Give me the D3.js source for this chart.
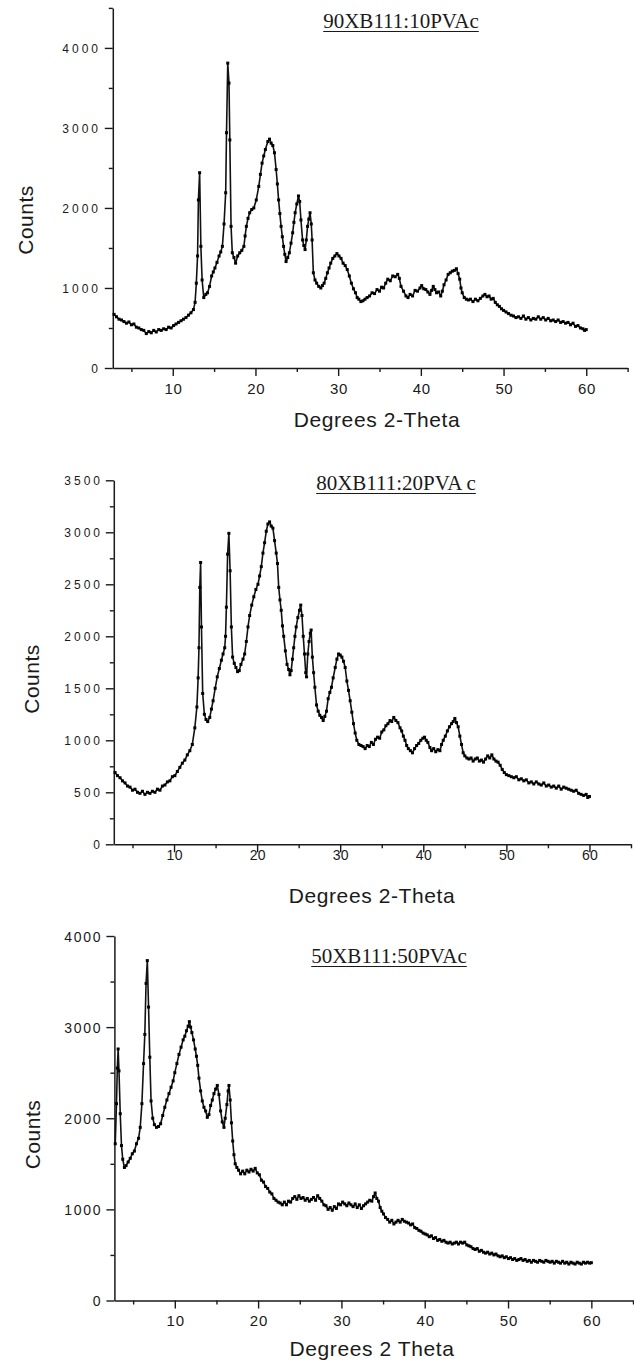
<!DOCTYPE html>
<html>
<head>
<meta charset="utf-8">
<script src="https://cdn.jsdelivr.net/npm/d3@7"></script>
<style>
  body { margin: 0; background: #fff; }
  svg { display: block; }
</style>
</head>
<body>
<svg id="chart" width="634" height="1360"></svg>
<script>
// XRD scans: [2-theta (degrees), counts]
const scan90 = [
  [2.9,670],[3.2,640],[3.5,610],[3.8,600],[4.1,580],[4.4,560],[4.7,575],[5.0,540],[5.3,550],[5.6,510],
  [5.9,500],[6.2,480],[6.5,470],[6.8,430],[7.1,455],[7.4,440],[7.7,470],[8.0,450],[8.3,480],[8.6,470],
  [8.9,490],[9.2,480],[9.5,510],[9.8,500],[10.1,530],[10.4,550],[10.7,570],[11.0,590],[11.3,610],[11.6,630],
  [11.9,660],[12.2,690],[12.5,730],[12.7,820],[12.85,1060],[13.0,1400],[13.1,2100],[13.25,2440],[13.4,1520],[13.55,1100],
  [13.75,880],[14.0,920],[14.2,940],[14.45,1020],[14.7,1150],[14.9,1200],[15.1,1250],[15.35,1320],[15.6,1400],[15.8,1450],
  [16.0,1520],[16.2,1800],[16.4,2190],[16.5,2940],[16.65,3810],[16.8,3560],[16.9,2850],[17.05,1770],[17.2,1440],[17.4,1380],
  [17.6,1310],[17.85,1400],[18.1,1440],[18.35,1470],[18.6,1520],[18.75,1650],[18.9,1770],[19.1,1870],[19.3,1940],[19.55,1980],
  [19.8,2000],[20.1,2100],[20.4,2270],[20.6,2420],[20.8,2560],[21.0,2650],[21.2,2730],[21.5,2830],[21.7,2860],[21.9,2810],
  [22.1,2780],[22.3,2690],[22.5,2480],[22.65,2300],[22.8,2100],[22.95,1930],[23.1,1770],[23.25,1640],[23.4,1520],[23.55,1420],
  [23.7,1330],[23.9,1380],[24.1,1440],[24.3,1560],[24.5,1690],[24.65,1820],[24.8,1940],[25.0,2050],[25.2,2150],[25.35,2080],
  [25.5,1850],[25.7,1600],[25.85,1530],[26.0,1480],[26.15,1600],[26.3,1770],[26.45,1860],[26.6,1940],[26.75,1800],[26.85,1600],
  [27.0,1190],[27.2,1100],[27.4,1060],[27.65,1020],[27.9,1000],[28.1,1030],[28.3,1060],[28.5,1120],[28.7,1190],[28.9,1250],
  [29.1,1310],[29.35,1370],[29.6,1400],[29.85,1430],[30.1,1400],[30.35,1370],[30.6,1310],[30.85,1280],[31.1,1230],[31.35,1150],
  [31.6,1060],[31.85,990],[32.1,940],[32.3,880],[32.5,860],[32.75,830],[33.0,840],[33.25,860],[33.5,880],[33.8,900],
  [34.1,940],[34.4,930],[34.7,980],[35.0,960],[35.25,1010],[35.5,1000],[35.75,1060],[36.0,1110],[36.3,1090],[36.6,1150],
  [36.9,1140],[37.2,1170],[37.4,1120],[37.6,1020],[37.9,960],[38.2,900],[38.45,880],[38.7,920],[39.0,900],[39.3,970],
  [39.6,960],[39.9,1000],[40.1,1030],[40.35,990],[40.6,980],[40.85,950],[41.1,920],[41.3,970],[41.5,1020],[41.7,980],
  [41.9,940],[42.15,950],[42.4,900],[42.6,960],[42.8,1040],[43.05,1100],[43.3,1170],[43.55,1190],[43.8,1210],[44.05,1220],
  [44.3,1240],[44.5,1180],[44.7,1110],[44.85,1000],[45.0,940],[45.25,880],[45.5,860],[45.75,850],[46.0,860],[46.3,830],
  [46.6,860],[46.9,840],[47.2,870],[47.5,900],[47.75,920],[48.0,890],[48.25,900],[48.5,860],[48.75,870],[49.0,820],
  [49.25,790],[49.5,770],[49.75,740],[50.0,720],[50.3,700],[50.6,680],[50.9,660],[51.2,650],[51.5,630],[51.8,640],
  [52.1,620],[52.4,650],[52.7,610],[53.0,630],[53.3,600],[53.6,620],[53.9,610],[54.2,640],[54.5,610],[54.8,630],
  [55.1,600],[55.4,620],[55.7,590],[56.0,600],[56.3,580],[56.6,600],[56.9,570],[57.2,580],[57.5,560],[57.8,570],
  [58.1,540],[58.4,560],[58.7,520],[59.0,530],[59.3,500],[59.6,490],[59.8,470],[60.0,480]
];

const scan80 = [
  [2.9,690],[3.2,660],[3.5,640],[3.8,610],[4.1,590],[4.4,560],[4.7,550],[5.0,520],[5.3,530],[5.6,500],
  [5.9,490],[6.2,510],[6.5,480],[6.8,500],[7.1,490],[7.4,510],[7.7,500],[8.0,530],[8.3,520],[8.6,560],
  [8.9,570],[9.2,600],[9.5,610],[9.8,650],[10.1,660],[10.4,700],[10.7,740],[11.0,780],[11.3,810],[11.6,860],
  [11.9,900],[12.2,960],[12.5,1120],[12.75,1320],[12.9,1600],[13.0,1890],[13.1,2470],[13.2,2710],[13.3,2090],[13.45,1450],
  [13.65,1250],[13.85,1200],[14.05,1180],[14.3,1220],[14.5,1300],[14.7,1380],[14.95,1500],[15.2,1610],[15.45,1690],[15.7,1770],
  [15.9,1830],[16.1,1890],[16.2,2000],[16.3,2280],[16.45,2790],[16.6,2990],[16.75,2630],[16.9,2090],[17.05,1800],[17.25,1740],
  [17.45,1700],[17.65,1660],[17.85,1670],[18.05,1730],[18.3,1780],[18.5,1830],[18.7,1950],[18.9,2090],[19.1,2200],[19.35,2300],
  [19.6,2380],[19.85,2450],[20.1,2500],[20.3,2580],[20.5,2670],[20.7,2800],[20.9,2900],[21.1,3010],[21.3,3080],[21.5,3100],
  [21.7,3060],[21.9,3040],[22.1,2920],[22.3,2800],[22.45,2700],[22.6,2470],[22.75,2350],[22.9,2250],[23.05,2100],[23.2,2000],
  [23.4,1860],[23.6,1730],[23.8,1680],[23.95,1630],[24.1,1670],[24.25,1780],[24.4,1890],[24.55,2000],[24.7,2090],[24.9,2180],
  [25.1,2250],[25.25,2300],[25.4,2200],[25.55,2000],[25.7,1830],[25.85,1650],[25.95,1610],[26.1,1830],[26.25,1950],[26.4,2030],
  [26.5,2060],[26.65,1800],[26.8,1650],[26.95,1510],[27.15,1340],[27.35,1280],[27.55,1240],[27.75,1220],[27.95,1190],[28.15,1230],
  [28.35,1280],[28.55,1400],[28.75,1460],[28.95,1510],[29.15,1600],[29.4,1700],[29.6,1780],[29.8,1830],[30.0,1820],[30.2,1800],
  [30.4,1760],[30.6,1700],[30.8,1570],[31.0,1480],[31.2,1380],[31.4,1270],[31.6,1160],[31.8,1070],[32.0,1000],[32.25,960],
  [32.5,950],[32.75,940],[33.0,920],[33.25,950],[33.5,940],[33.75,980],[34.0,960],[34.25,1010],[34.5,1030],[34.75,1020],
  [35.0,1080],[35.25,1100],[35.5,1140],[35.75,1160],[36.0,1190],[36.2,1180],[36.45,1220],[36.7,1190],[36.95,1170],[37.2,1120],
  [37.4,1090],[37.6,1040],[37.8,1000],[38.0,950],[38.2,920],[38.45,900],[38.7,880],[38.95,920],[39.2,950],[39.45,970],
  [39.7,1000],[39.95,1020],[40.15,1030],[40.35,1000],[40.55,980],[40.8,930],[41.0,900],[41.25,920],[41.5,890],[41.75,910],
  [42.0,900],[42.2,960],[42.4,1000],[42.65,1040],[42.9,1090],[43.15,1130],[43.4,1160],[43.6,1180],[43.8,1210],[44.0,1170],
  [44.2,1130],[44.4,1040],[44.6,960],[44.8,880],[45.0,850],[45.25,830],[45.5,820],[45.75,830],[46.0,800],[46.25,820],
  [46.5,830],[46.75,800],[47.0,810],[47.25,790],[47.5,820],[47.75,850],[48.0,830],[48.25,860],[48.5,820],[48.75,800],
  [49.0,790],[49.25,760],[49.5,720],[49.75,690],[50.0,670],[50.3,660],[50.6,650],[50.9,640],[51.2,650],[51.5,620],
  [51.8,630],[52.1,610],[52.4,620],[52.7,590],[53.0,600],[53.3,580],[53.6,600],[53.9,580],[54.2,570],[54.5,590],
  [54.8,560],[55.1,570],[55.4,550],[55.7,560],[56.0,540],[56.3,560],[56.6,530],[56.9,550],[57.2,540],[57.5,530],
  [57.8,520],[58.1,510],[58.4,520],[58.7,490],[59.0,480],[59.3,470],[59.6,480],[59.8,450],[60.0,460]
];

const scan50 = [
  [2.85,1720],[3.0,2160],[3.1,2550],[3.2,2760],[3.3,2520],[3.45,2050],[3.6,1700],[3.75,1550],[3.95,1460],[4.15,1480],
  [4.4,1520],[4.65,1560],[4.9,1610],[5.15,1640],[5.4,1720],[5.65,1780],[5.85,1900],[6.05,2160],[6.25,2600],[6.4,2920],
  [6.55,3480],[6.7,3730],[6.85,3220],[7.0,2670],[7.15,2190],[7.35,2000],[7.55,1930],[7.8,1900],[8.05,1910],[8.3,1940],
  [8.55,2030],[8.8,2120],[9.05,2200],[9.3,2270],[9.55,2340],[9.8,2410],[10.0,2500],[10.25,2600],[10.5,2700],[10.75,2780],
  [11.0,2860],[11.2,2900],[11.4,2960],[11.6,3010],[11.75,3060],[11.9,3000],[12.05,2940],[12.25,2860],[12.45,2760],[12.6,2680],
  [12.75,2580],[12.9,2440],[13.1,2300],[13.3,2190],[13.5,2120],[13.7,2080],[13.9,2010],[14.1,2040],[14.3,2140],[14.5,2200],
  [14.7,2270],[14.9,2320],[15.1,2360],[15.3,2260],[15.5,2080],[15.7,1960],[15.9,1900],[16.05,2000],[16.25,2150],[16.4,2300],
  [16.5,2360],[16.65,2200],[16.8,1950],[16.95,1750],[17.1,1600],[17.25,1500],[17.45,1460],[17.65,1430],[17.9,1390],[18.15,1420],
  [18.4,1390],[18.65,1430],[18.9,1410],[19.15,1440],[19.4,1420],[19.65,1450],[19.9,1400],[20.15,1380],[20.4,1320],[20.65,1300],
  [20.9,1250],[21.15,1230],[21.4,1190],[21.65,1170],[21.9,1120],[22.15,1100],[22.4,1080],[22.65,1070],[22.9,1050],[23.15,1080],
  [23.4,1050],[23.65,1090],[23.9,1080],[24.15,1120],[24.4,1140],[24.65,1110],[24.9,1150],[25.15,1120],[25.4,1130],[25.65,1100],
  [25.9,1120],[26.15,1090],[26.4,1110],[26.65,1130],[26.9,1100],[27.15,1150],[27.4,1120],[27.65,1090],[27.9,1050],[28.15,1040],
  [28.4,1000],[28.65,1020],[28.9,990],[29.15,1030],[29.4,1010],[29.65,1060],[29.9,1050],[30.15,1080],[30.4,1060],[30.65,1040],
  [30.9,1070],[31.15,1050],[31.4,1030],[31.65,1060],[31.9,1020],[32.15,1050],[32.4,1010],[32.65,1040],[32.9,1060],[33.15,1080],
  [33.4,1100],[33.65,1090],[33.85,1140],[34.05,1180],[34.25,1120],[34.45,1090],[34.65,1020],[34.85,980],[35.05,950],[35.3,910],
  [35.55,890],[35.8,860],[36.05,880],[36.3,840],[36.55,860],[36.8,880],[37.05,860],[37.3,890],[37.55,870],[37.8,860],
  [38.05,850],[38.3,830],[38.55,840],[38.8,800],[39.05,790],[39.3,770],[39.55,760],[39.8,740],[40.05,730],[40.3,720],
  [40.55,700],[40.8,710],[41.05,680],[41.3,690],[41.55,660],[41.8,670],[42.05,650],[42.3,660],[42.55,640],[42.8,630],
  [43.05,640],[43.3,620],[43.55,630],[43.8,640],[44.05,620],[44.3,640],[44.55,630],[44.8,640],[45.05,610],[45.3,600],
  [45.55,590],[45.8,570],[46.05,560],[46.3,570],[46.55,540],[46.8,550],[47.05,530],[47.3,520],[47.55,530],[47.8,510],
  [48.05,520],[48.3,500],[48.55,510],[48.8,490],[49.05,480],[49.3,490],[49.55,470],[49.8,480],[50.05,460],[50.3,470],
  [50.55,450],[50.8,460],[51.05,440],[51.3,450],[51.55,460],[51.8,440],[52.05,450],[52.3,430],[52.55,440],[52.8,420],
  [53.05,440],[53.3,430],[53.55,420],[53.8,440],[54.05,430],[54.3,420],[54.55,440],[54.8,430],[55.05,420],[55.3,430],
  [55.55,410],[55.8,430],[56.05,420],[56.3,410],[56.55,430],[56.8,410],[57.05,420],[57.3,400],[57.55,420],[57.8,410],
  [58.05,400],[58.3,420],[58.55,410],[58.8,400],[59.05,420],[59.3,410],[59.55,420],[59.8,410],[60.0,415]
];

// Axis ticks
const xDomain = [2.75, 65];
const xMajorTicks = [10, 20, 30, 40, 50, 60];
const xMinorTicks = [5, 15, 25, 35, 45, 55, 65];
const yMajor90 = [0, 1000, 2000, 3000, 4000];
const yMinor90 = [500, 1500, 2500, 3500, 4500];
const yMajor80 = [0, 500, 1000, 1500, 2000, 2500, 3000, 3500];
const yMinor80 = [250, 750, 1250, 1750, 2250, 2750, 3250];
const yMajor50 = [0, 1000, 2000, 3000, 4000];
const yMinor50 = [500, 1500, 2500, 3500];

// Panel text
const sampleTitles = ["90XB111:10PVAc", "80XB111:20PVA c", "50XB111:50PVAc"];
const xTitles = ["Degrees 2-Theta", "Degrees 2-Theta", "Degrees 2 Theta"];
const yTitle = "Counts";

// Panel geometry and text styling
const panels = [
  { data: scan90, title: sampleTitles[0], xTitle: xTitles[0], yMax: 4500, yMajor: yMajor90, yMinor: yMinor90,
    left: 112.8, right: 627.6, top: 7.9, bottom: 368,
    yLabel: { size: 12, ls: 3, right: 98 }, xLabel: { size: 15, ls: 0.6, dy: 26 },
    titleX: 401, titleY: 28, ulY: 31.5, xTitleX: 377, xTitleY: 427, yTitleX: 33, yTitleY: 220 },
  { data: scan80, title: sampleTitles[1], xTitle: xTitles[1], yMax: 3500, yMajor: yMajor80, yMinor: yMinor80,
    left: 113.8, right: 631, top: 480.3, bottom: 844.3,
    yLabel: { size: 12, ls: 3, right: 100 }, xLabel: { size: 14, ls: 0.3, dy: 15.5 },
    titleX: 396, titleY: 489.5, ulY: 493.5, xTitleX: 372, xTitleY: 903, yTitleX: 39, yTitleY: 679 },
  { data: scan50, title: sampleTitles[2], xTitle: xTitles[2], yMax: 4000, yMajor: yMajor50, yMinor: yMinor50,
    left: 114.4, right: 633, top: 936, bottom: 1300.5,
    yLabel: { size: 14, ls: 1.7, right: 100.5 }, xLabel: { size: 15, ls: 0.8, dy: 25.5 },
    titleX: 389, titleY: 963, ulY: 966.5, xTitleX: 372, xTitleY: 1356, yTitleX: 40, yTitleY: 1134.5 }
];

const svg = d3.select("#chart");
const sans = "'Liberation Sans', Arial, Helvetica, sans-serif";
const serif = "'Liberation Serif', 'Times New Roman', Times, serif";
const ink = "#1a1a1a";

panels.forEach(p => {
  const x = d3.scaleLinear().domain(xDomain).range([p.left, p.right]);
  const y = d3.scaleLinear().domain([0, p.yMax]).range([p.bottom, p.top]);
  const g = svg.append("g");

  // y axis: major ticks with labels, minor ticks without
  const yAxisG = g.append("g").attr("transform", `translate(${p.left},0)`);
  yAxisG.call(d3.axisLeft(y).tickValues(p.yMajor).tickSize(8).tickSizeOuter(0).tickPadding(0).tickFormat(d3.format("d")));
  yAxisG.append("g").call(d3.axisLeft(y).tickValues(p.yMinor).tickSize(4).tickSizeOuter(0).tickFormat(""))
    .select(".domain").remove();
  yAxisG.selectAll(".tick text")
    .attr("x", p.yLabel.right - p.left + p.yLabel.ls)
    .attr("dy", "0.36em")
    .style("font-family", sans).style("font-size", p.yLabel.size + "px")
    .style("letter-spacing", p.yLabel.ls + "px").attr("fill", ink);

  // x axis
  const xAxisG = g.append("g").attr("transform", `translate(0,${p.bottom})`);
  xAxisG.call(d3.axisBottom(x).tickValues(xMajorTicks).tickSize(8).tickSizeOuter(0).tickPadding(0).tickFormat(d3.format("d")));
  xAxisG.append("g").call(d3.axisBottom(x).tickValues(xMinorTicks).tickSize(4).tickSizeOuter(0).tickFormat(""))
    .select(".domain").remove();
  xAxisG.selectAll(".tick text")
    .attr("y", p.xLabel.dy).attr("dy", 0)
    .attr("dx", p.xLabel.ls / 2)
    .style("font-family", sans).style("font-size", p.xLabel.size + "px")
    .style("letter-spacing", p.xLabel.ls + "px").attr("fill", ink);

  g.selectAll(".domain").attr("stroke", ink).attr("stroke-width", 1.5);
  g.selectAll(".tick line").attr("stroke", ink).attr("stroke-width", 1.4);

  // scan trace: line plus a small square at each measured point
  const line = d3.line().x(d => x(d[0])).y(d => y(d[1]));
  g.append("path").datum(p.data)
    .attr("d", line).attr("fill", "none")
    .attr("stroke", "#111").attr("stroke-width", 1.6).attr("stroke-linejoin", "round");
  g.append("g").selectAll("rect").data(p.data).join("rect")
    .attr("x", d => x(d[0]) - 1.5).attr("y", d => y(d[1]) - 1.5)
    .attr("width", 3).attr("height", 3).attr("fill", "#000");

  // sample title, underlined
  const t = g.append("text").attr("x", p.titleX).attr("y", p.titleY)
    .attr("text-anchor", "middle").style("font-family", serif).style("font-size", "21px")
    .attr("fill", ink).text(p.title);
  const bb = t.node().getBBox();
  g.append("line").attr("x1", bb.x).attr("x2", bb.x + bb.width)
    .attr("y1", p.ulY).attr("y2", p.ulY).attr("stroke", ink).attr("stroke-width", 1.2);

  // axis titles
  g.append("text").attr("x", p.xTitleX).attr("y", p.xTitleY).attr("text-anchor", "middle")
    .style("font-family", sans).style("font-size", "21px").style("letter-spacing", "0.6px")
    .attr("fill", ink).text(p.xTitle);
  g.append("text").attr("transform", `translate(${p.yTitleX},${p.yTitleY}) rotate(-90)`)
    .attr("text-anchor", "middle")
    .style("font-family", sans).style("font-size", "21px").style("letter-spacing", "0.5px")
    .attr("fill", ink).text(yTitle);
});
</script>
</body>
</html>
